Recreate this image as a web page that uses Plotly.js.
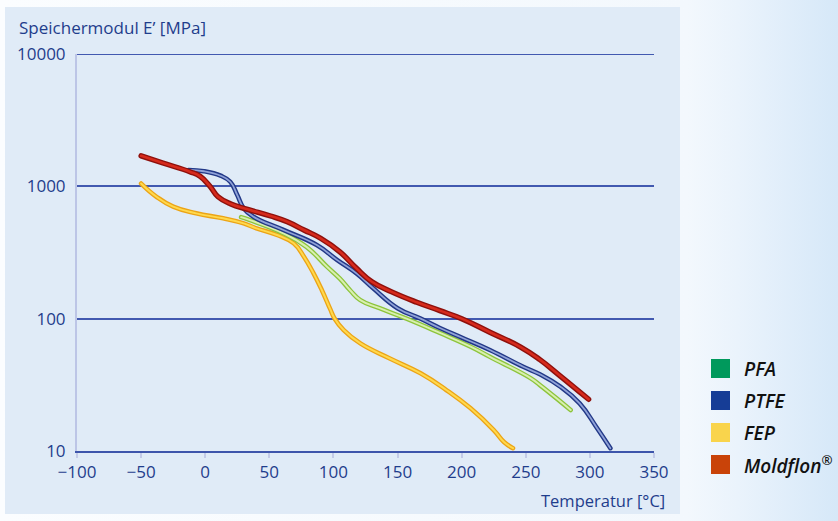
<!DOCTYPE html>
<html>
<head>
<meta charset="utf-8">
<script src="https://cdn.plot.ly/plotly-3.0.1.min.js"></script>
<style>
  html, body { margin:0; padding:0; }
  body { width:838px; height:521px; overflow:hidden;
    background: linear-gradient(to right, #fbfdff 0%, #f3f8fd 82%, #eaf3fc 88%, #d6e8f8 100%); }
  #chart { width:838px; height:521px; }
  path.js-line { stroke-linecap: round; stroke-linejoin: round; }
</style>
</head>
<body>
<div id="chart"></div>
<script>
// ---- data ----
const moldflonT = [-50, -33, -12, -4, 4, 10, 20, 33, 51, 64, 77, 90, 105, 118, 130, 145, 165, 183, 200, 222, 246, 261, 276, 299];
const moldflonE = [1700, 1500, 1290, 1190, 993, 834, 735, 670, 597, 540, 468, 405, 320, 240, 190, 160, 133, 115, 100, 79, 61, 49, 37.5, 24.6];

const ptfeT = [-13, -1, 12, 19.5, 25, 30, 37.6, 61, 87, 103, 118, 131, 150, 168, 183, 200, 222, 248, 261, 277, 292, 305, 316];
const ptfeE = [1330, 1300, 1203, 1083, 859, 682, 589, 468, 360, 277, 220, 170, 120, 100, 85, 72, 58, 43.3, 38, 30.6, 22.9, 15.2, 10.5];

const pfaT = [28, 35, 61, 79, 95, 105, 113, 121, 136, 157, 183, 207, 222, 254, 261, 274, 285];
const pfaE = [585, 556, 442, 349, 247, 201, 164, 138, 120, 100, 78, 61.4, 51.5, 35.4, 31.5, 25, 20.4];

const fepT = [-50, -38, -25, -7, 14, 30, 40, 56, 69, 77, 84.5, 91, 97.5, 101, 108, 121, 144, 168, 188, 207, 225, 233, 240];
const fepE = [1050, 834, 702, 625, 573, 525, 481, 429, 371, 294, 220, 164, 118, 100, 82, 65, 50, 38.6, 28.9, 21, 14.4, 11.7, 10.5];

const yTickVals = [10, 100, 1000, 10000];
const yTickText = ['10', '100', '1000', '10000'];

const legendNames = ['PFA', 'PTFE', 'FEP', 'Moldflon<sup>®</sup>'];
const legendColors = ['#00995c', '#163d96', '#f9d44c', '#c94309'];

const xTitle = 'Temperatur [°C]';
const yTitle = 'Speichermodul E’ [MPa]';

// ---- styling ----
const series = [
  {x: fepT, y: fepE, outer: '#eca416', inner: '#ffd94e', wo: 4.6, wi: 2},
  {x: pfaT, y: pfaE, outer: '#8dc43b', inner: '#d9efb0', wo: 4.6, wi: 2},
  {x: ptfeT, y: ptfeE, outer: '#223887', inner: '#90a2d8', wo: 4.6, wi: 1.8},
  {x: moldflonT, y: moldflonE, outer: '#8e100c', inner: '#d62a1c', wo: 5.4, wi: 2.6}
];

const traces = [];
series.forEach(s => {
  traces.push({x: s.x, y: s.y, type: 'scatter', mode: 'lines', hoverinfo: 'skip',
    line: {color: s.outer, width: s.wo, shape: 'spline', smoothing: 1.3}, showlegend: false});
  traces.push({x: s.x, y: s.y, type: 'scatter', mode: 'lines', hoverinfo: 'skip',
    line: {color: s.inner, width: s.wi, shape: 'spline', smoothing: 1.3}, showlegend: false});
});

// plot area in pixels
const L = 77, R = 654, T = 54, B = 451;
const px = v => (v - L) / (R - L);
const py = v => (B - v) / (B - T);

const FONT = 'Open Sans, Noto Sans, sans-serif';
const TXT = '#1f3d8c';
const GRID = '#4259b0';

const shapes = [{
  type: 'rect', xref: 'paper', yref: 'paper', layer: 'below',
  x0: px(5), x1: px(680), y0: py(514), y1: py(7),
  fillcolor: '#e0ebf7', line: {width: 0}
}, {
  // top gridline at 10000 (Plotly omits the grid line on the range edge)
  type: 'line', xref: 'paper', yref: 'y', layer: 'below',
  x0: 0, x1: 1, y0: yTickVals[3], y1: yTickVals[3],
  line: {color: GRID, width: 2}
}];
const annotations = [
  {xref: 'paper', yref: 'paper', x: px(17), y: py(27), xanchor: 'left', yanchor: 'middle',
   text: yTitle, showarrow: false, font: {family: FONT, size: 17, color: TXT}},
  {xref: 'paper', yref: 'paper', x: px(667), y: py(500), xanchor: 'right', yanchor: 'middle',
   text: xTitle, showarrow: false, font: {family: FONT, size: 16.5, color: TXT}}
];
const rowTop = [359, 391, 423, 455];
legendNames.forEach((n, i) => {
  shapes.push({type: 'rect', xref: 'paper', yref: 'paper',
    x0: px(711), x1: px(730), y0: py(rowTop[i] + 19), y1: py(rowTop[i]),
    fillcolor: legendColors[i], line: {width: 0}});
  annotations.push({xref: 'paper', yref: 'paper', x: px(742), y: py(rowTop[i] + 10),
    xanchor: 'left', yanchor: 'middle', text: n, showarrow: false,
    font: {family: FONT, size: 19, color: '#111111', style: 'italic', weight: 600}});
});

const layout = {
  width: 838, height: 521,
  margin: {l: L, r: 838 - R, t: T, b: 521 - B, pad: 0},
  paper_bgcolor: 'rgba(0,0,0,0)', plot_bgcolor: 'rgba(0,0,0,0)',
  showlegend: false,
  font: {family: FONT, size: 17, color: TXT},
  xaxis: {range: [-100, 350], tick0: 0, dtick: 50, showgrid: false, zeroline: false,
    showline: true, linecolor: '#3d55ab', linewidth: 2,
    ticks: 'outside', ticklen: 5, tickwidth: 2, tickcolor: '#c3cbe8',
    tickfont: {family: FONT, size: 17, color: TXT}, fixedrange: true},
  yaxis: {type: 'log', range: [1, 4], tickmode: 'array', tickvals: yTickVals, ticktext: yTickText,
    showgrid: true, gridcolor: GRID, gridwidth: 2, zeroline: false,
    showline: true, linecolor: '#bcc5e6', linewidth: 2, ticks: '',
    ticklabelstandoff: 6,
    tickfont: {family: FONT, size: 17, color: TXT}, fixedrange: true},
  shapes: shapes,
  annotations: annotations
};

Plotly.newPlot('chart', traces, layout, {displayModeBar: false, staticPlot: true});
</script>
</body>
</html>
